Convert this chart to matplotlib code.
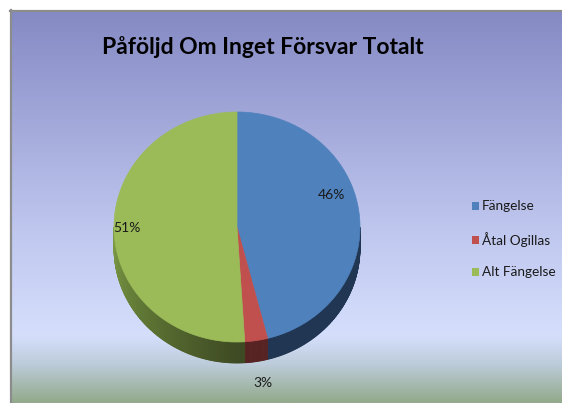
import numpy as np
import matplotlib
matplotlib.use("Agg")
import matplotlib.pyplot as plt
from matplotlib.patches import Polygon, Rectangle
from matplotlib.colors import LinearSegmentedColormap, to_rgb
from matplotlib import font_manager

# ---- data ----
categories = ["Fängelse", "Åtal Ogillas", "Alt Fängelse"]
values = [46, 3, 51]
labels = ["46%", "3%", "51%"]
title = "Påföljd Om Inget Försvar Totalt"

# ---- styles ----
top_colors = ["#4f81bd", "#c0504d", "#9bbb59"]
side_dark = ["#1c3049", "#4f1e1e", "#3e4a22"]
side_light = ["#2a4468", "#6a2a2a", "#7a9a44"]

names = {f.name for f in font_manager.fontManager.ttflist}
narrow = "Liberation Sans Narrow" if "Liberation Sans Narrow" in names else None
title_fam = [narrow, "Lato", "DejaVu Sans"] if narrow else ["Lato", "DejaVu Sans"]
title_size = 20 if narrow else 16.5
body_fam = ["Lato", "DejaVu Sans"]

W, H = 562, 403
fig = plt.figure(figsize=(W / 100, H / 100), dpi=100)
fig.patch.set_facecolor("white")
ax = fig.add_axes([0, 0, 1, 1])
ax.set_xlim(0, W)
ax.set_ylim(H, 0)
ax.axis("off")

# background gradient
fx0, fy0 = 11, 11
stops = [(0.0, (133, 138, 196)), (0.55, (190, 198, 238)), (0.83, (213, 223, 252)),
         (0.9, (190, 205, 220)), (1.0, (148, 170, 140))]
cmap = LinearSegmentedColormap.from_list(
    "bg", [(p, tuple(c / 255 for c in col)) for p, col in stops])
grad = np.linspace(0, 1, 400).reshape(-1, 1)
ax.imshow(grad, cmap=cmap, extent=[fx0, W, H, fy0], aspect="auto", zorder=0,
          interpolation="bilinear")
ax.plot([fx0 - 0.5, fx0 - 0.5], [fy0 - 1, H], color="#8c8c8c", lw=1.6, zorder=1)
ax.plot([fx0 - 1, W], [fy0 - 0.5, fy0 - 0.5], color="#8c8c8c", lw=1.6, zorder=1)

# title
ax.text(263, 47, title, fontsize=title_size, fontweight="bold", family=title_fam,
        ha="center", va="center", color="black", zorder=5)

# ---- 3D pie ----
cx, cy, rx, ry, depth = 237, 227, 123, 115, 21
total = float(sum(values))
bounds = np.concatenate([[0], np.cumsum(values)]) / total * 360.0


def pt(theta_deg, dy=0.0):
    t = np.radians(theta_deg)
    return cx + rx * np.sin(t), cy - ry * np.cos(t) + dy


# sides (front visible range 90..270)
for i in range(len(values)):
    a0, a1 = max(bounds[i], 90), min(bounds[i + 1], 270)
    if a1 <= a0:
        continue
    n = max(int((a1 - a0) * 2), 2)
    th = np.linspace(a0, a1, n + 1)
    cl, cd = np.array(to_rgb(side_light[i])), np.array(to_rgb(side_dark[i]))
    for j in range(n):
        t0, t1 = th[j], th[j + 1]
        tm = 0.5 * (t0 + t1)
        f = np.clip((tm - 180) / 90.0, 0, 1) if i == 2 else 0.3
        col = cd + (cl - cd) * f
        p = [pt(t0), pt(t1), pt(t1, depth), pt(t0, depth)]
        ax.add_patch(Polygon(p, closed=True, facecolor=col, edgecolor=col, lw=0.6, zorder=2))

# tops
for i in range(len(values)):
    th = np.linspace(bounds[i], bounds[i + 1], max(int(bounds[i + 1] - bounds[i]) * 2, 4))
    pts = [(cx, cy)] + [pt(t) for t in th]
    ax.add_patch(Polygon(pts, closed=True, facecolor=top_colors[i],
                         edgecolor=top_colors[i], lw=0.5, zorder=3))

# labels
label_pos = [(331, 195), (263, 383), (127, 228)]
for lab, (x, y) in zip(labels, label_pos):
    ax.text(x, y, lab, fontsize=10, family=body_fam, ha="center",
            va="center", color="#1a1a1a", zorder=6)

# legend
leg_y = [206, 240, 272]
for name, col, y in zip(categories, top_colors, leg_y):
    ax.add_patch(Rectangle((472, y - 4), 7, 8, facecolor=col, edgecolor="none", zorder=6))
    ax.text(482, y, name, fontsize=9.8, family=body_fam, ha="left",
            va="center", color="#1a1a1a", zorder=6)

fig.savefig("out.png", dpi=100, facecolor="white")
